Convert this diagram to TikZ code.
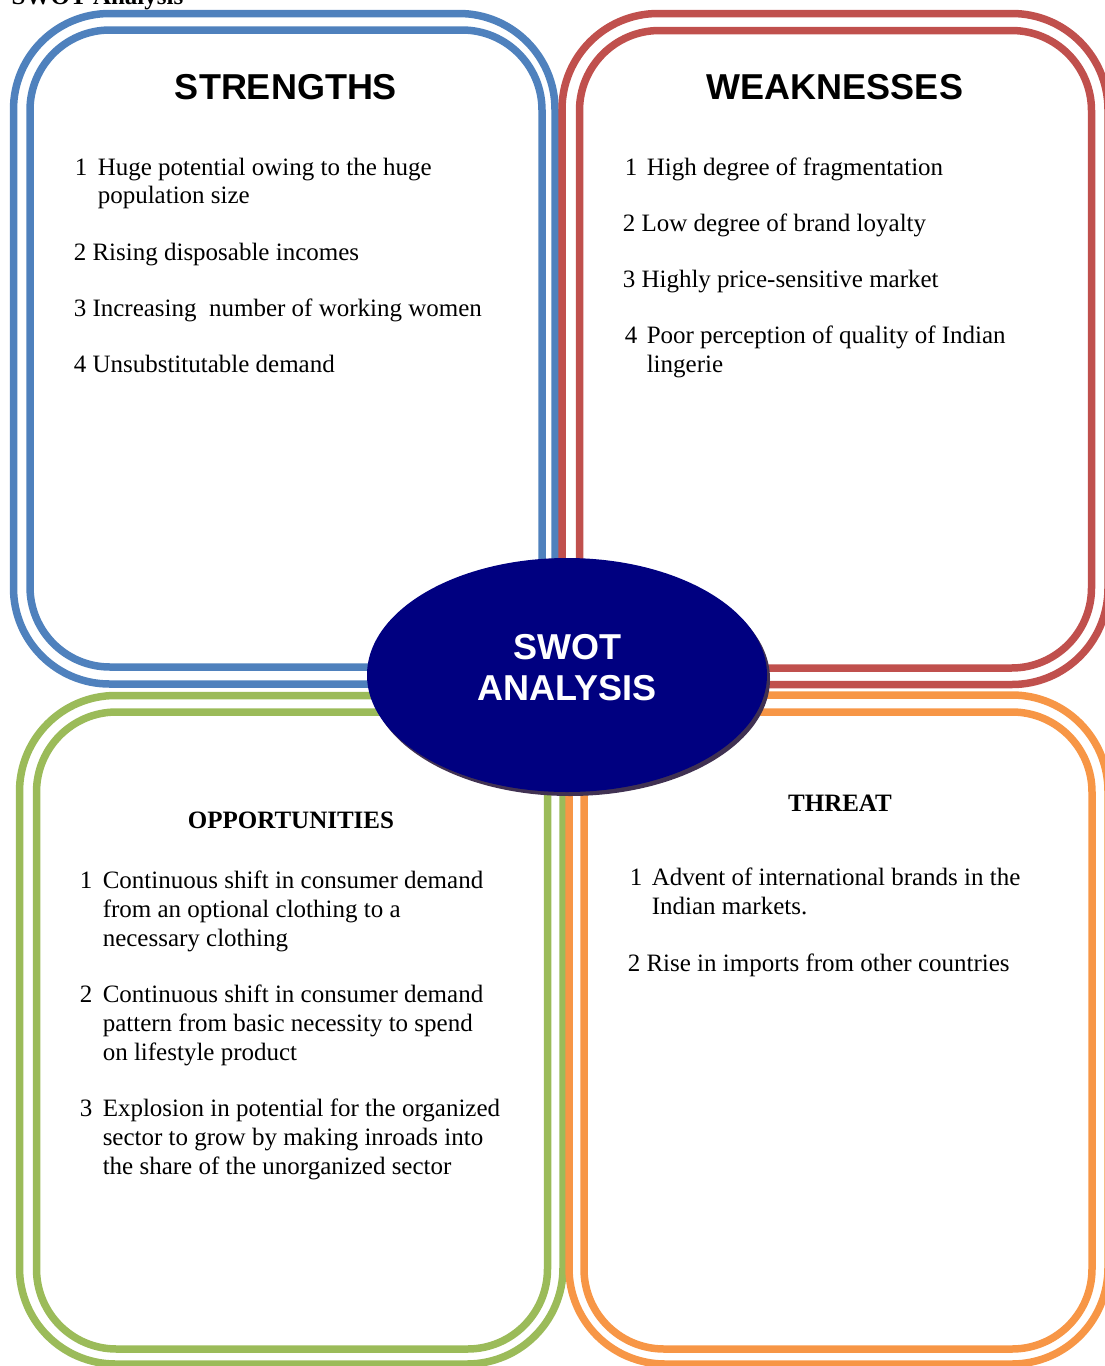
\documentclass[tikz,border=0pt]{standalone}
\usepackage{fontspec}
\setmainfont{Liberation Serif}
\setsansfont{Liberation Sans}
\usetikzlibrary{shapes.geometric}
\usetikzlibrary{shadows}

\definecolor{strblue}{HTML}{4F81BD}
\definecolor{weakred}{HTML}{C0504D}
\definecolor{oppgreen}{HTML}{9BBB59}
\definecolor{throrange}{HTML}{F79646}
\definecolor{swotnavy}{HTML}{000080}
\definecolor{swotshade}{HTML}{403152}

\begin{document}
\begin{tikzpicture}
[x=1pt,y=-1pt,line width=7.5pt,
 outerline/.style={rounded corners=96pt},
 innerline/.style={rounded corners=80pt},
 head/.style={anchor=base,inner sep=0pt,font=\sffamily\bfseries\fontsize{36}{40}\selectfont},
 subhead/.style={anchor=base,inner sep=0pt,font=\bfseries\fontsize{25}{29}\selectfont},
 item/.style={anchor=base west,inner sep=0pt,font=\fontsize{25}{29}\selectfont}]
\useasboundingbox (0,0) rectangle (1104,1366);
\node[anchor=base west,inner sep=0pt,font=\bfseries\fontsize{25}{29}\selectfont] (title) at (8,4) {SWOT Analysis};
% the four frames
\draw[strblue,outerline] (13.5,13.5) rectangle (555,684);
\draw[strblue,innerline] (30,30) rectangle (542,667);
\draw[weakred,outerline] (562,13.5) rectangle (1108,684.5);
\draw[weakred,innerline] (579.5,30.5) rectangle (1091.5,668);
\draw[oppgreen,outerline] (19.5,695.5) rectangle (563,1364);
\draw[oppgreen,innerline] (36.5,712) rectangle (547.5,1349);
\draw[throrange,outerline] (569,695) rectangle (1108,1364);
\draw[throrange,innerline] (584,712) rectangle (1092,1349);
% strengths
\node[head] (str) at (286,99) {STRENGTHS};
\node[item] (s1n) at (71,175) {1};
\node[item] (s1) at (94,175) {Huge potential owing to the huge};
\node[item] (s1b) at (94,203) {population size};
\node[item] (s2) at (70,260) {2 Rising disposable incomes};
\node[item] (s3) at (70,316) {3 Increasing\ \ number of working women};
\node[item] (s4) at (70,372) {4 Unsubstitutable demand};
% weaknesses
\node[head] (weak) at (835,99) {WEAKNESSES};
\node[item] (w1n) at (621,175) {1};
\node[item] (w1) at (643,175) {High degree of fragmentation};
\node[item] (w2) at (619,231) {2 Low degree of brand loyalty};
\node[item] (w3) at (619,287) {3 Highly price-sensitive market};
\node[item] (w4n) at (621,343) {4};
\node[item] (w4) at (643,343) {Poor perception of quality of Indian};
\node[item] (w4b) at (643,372) {lingerie};
% opportunities
\node[subhead] (opp) at (291,828) {OPPORTUNITIES};
\node[item] (o1n) at (76,888) {1};
\node[item] (o1) at (99,888) {Continuous shift in consumer demand};
\node[item] (o1b) at (99,917) {from an optional clothing to a};
\node[item] (o1c) at (99,946) {necessary clothing};
\node[item] (o2n) at (76,1002) {2};
\node[item] (o2) at (99,1002) {Continuous shift in consumer demand};
\node[item] (o2b) at (99,1031) {pattern from basic necessity to spend};
\node[item] (o2c) at (99,1060) {on lifestyle product};
\node[item] (o3n) at (76,1116) {3};
\node[item] (o3) at (99,1116) {Explosion in potential for the organized};
\node[item] (o3b) at (99,1145) {sector to grow by making inroads into};
\node[item] (o3c) at (99,1174) {the share of the unorganized sector};
% threat
\node[subhead] (thr) at (840,811) {THREAT};
\node[item] (t1n) at (626,885) {1};
\node[item] (t1) at (648,885) {Advent of international brands in the};
\node[item] (t1b) at (648,914) {Indian markets.};
\node[item] (t2) at (624,971) {2 Rise in imports from other countries};
% centre
\node[ellipse,fill=swotnavy,draw=none,minimum width=400pt,minimum height=234pt,
  drop shadow={shadow xshift=3pt,shadow yshift=-4pt,fill=swotshade,opacity=1},
  text=white,align=center,text depth=15pt,font=\sffamily\bfseries\fontsize{36}{41}\selectfont]
  (swot) at (567,675) {SWOT\\ANALYSIS};
\end{tikzpicture}
\end{document}
